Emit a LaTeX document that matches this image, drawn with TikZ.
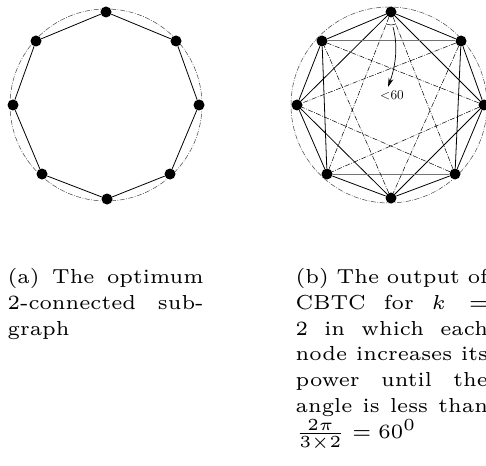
\documentclass[tikz,border=0pt]{standalone}
\usetikzlibrary{arrows.meta}
\newcommand\capfont{\fontsize{6}{7.66}\selectfont}
\begin{document}
\begin{tikzpicture}[x=1pt,y=-1pt,
  vtx/.style={circle,fill=black,inner sep=0pt,minimum size=11pt},
  solidedge/.style={line width=0.8pt},
  greyedge/.style={line width=1pt,black!55},
  dd/.style={line width=0.5pt,dash pattern=on 5pt off 1.5pt on 0.8pt off 1.5pt},
  rim/.style={line width=0.5pt,black!75,dash pattern=on 5pt off 1.5pt on 0.8pt off 1.5pt},
  capnode/.style={anchor=base west,inner sep=0pt,scale=3.38}]
\useasboundingbox (0,0) rectangle (486,465);
% left graph
\draw[rim] (106,105) circle[radius=96];
\node[vtx] (a0) at (106,12) {};
\node[vtx] (a1) at (176,41) {};
\node[vtx] (a2) at (199,105) {};
\node[vtx] (a3) at (170,174) {};
\node[vtx] (a4) at (107,199) {};
\node[vtx] (a5) at (42,174) {};
\node[vtx] (a6) at (13,105) {};
\node[vtx] (a7) at (36,41) {};
\draw[solidedge] (a0)--(a1) (a1)--(a2) (a2)--(a3) (a3)--(a4) (a4)--(a5) (a5)--(a6) (a6)--(a7) (a7)--(a0);
% right graph
\draw[rim] (389,105) circle[radius=98];
\node[vtx] (b0) at (391,12) {};
\node[vtx] (b1) at (461,41) {};
\node[vtx] (b2) at (484,105) {};
\node[vtx] (b3) at (455,174) {};
\node[vtx] (b4) at (391,198) {};
\node[vtx] (b5) at (327,174) {};
\node[vtx] (b6) at (297,105) {};
\node[vtx] (b7) at (322,41) {};
\draw[solidedge] (b0)--(b1) (b1)--(b2) (b2)--(b3) (b3)--(b4) (b4)--(b5) (b5)--(b6) (b6)--(b7) (b7)--(b0);
\draw[solidedge] (b0)--(b2) (b0)--(b6) (b1)--(b3) (b7)--(b5) (b6)--(b4) (b2)--(b4);
\draw[greyedge] (b7)--(b1) (b5)--(b3);
\draw[dd] (b0)--(b3) (b0)--(b5) (b1)--(b4) (b1)--(b6) (b2)--(b5) (b2)--(b7) (b3)--(b6) (b4)--(b7);
\draw[line width=0.5pt] (b0) ++(68:13) arc[start angle=68,end angle=112,radius=13];
\coordinate (ast) at (393,27);
\coordinate (aend) at (388,87);
\draw[line width=0.7pt,-{Stealth[length=9pt,width=5pt]}] (ast) .. controls (398,45) and (396,65) .. (aend);
\node[inner sep=0pt] (lbl) at (392,95) {\fontsize{13.5}{15}\selectfont <60};
% captions
\node[capnode] (capa) at (7,283.3) {\parbox[t]{58pt}{\capfont (a) The optimum\linebreak 2-connected sub-\linebreak graph}};
\node[capnode] (capb) at (295,283.3) {\parbox[t]{56.9pt}{\capfont (b) The output of\linebreak CBTC for $k =$\linebreak 2 in which each\linebreak node increases its\linebreak power until the\linebreak angle is less than\linebreak $\frac{2\pi}{3\times 2} = 60^0$}};
\end{tikzpicture}
\end{document}
